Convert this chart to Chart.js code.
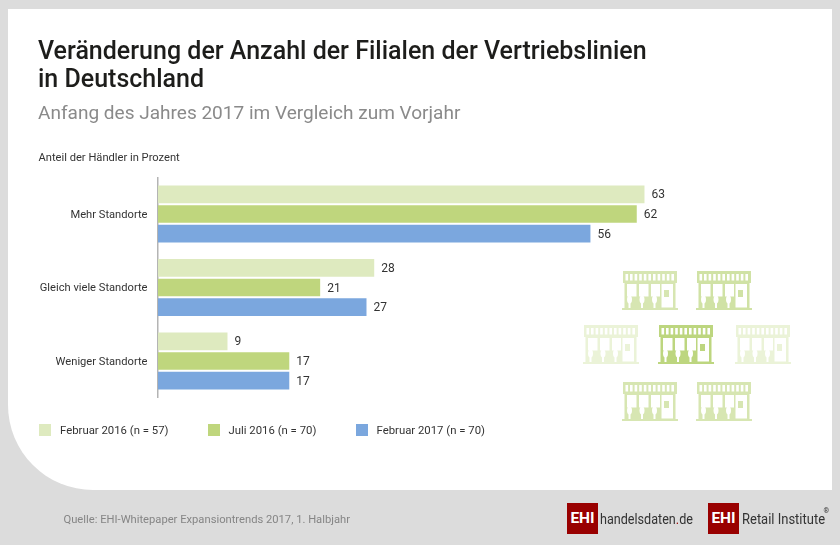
<!DOCTYPE html>
<html lang="de"><head><meta charset="utf-8">
<script src="https://cdn.jsdelivr.net/npm/chart.js@4"></script>
<style>
html,body{margin:0;padding:0;width:840px;height:545px;overflow:hidden;background:#dcdcdc;font-family:Roboto,sans-serif}
#panel{position:absolute;left:8px;top:9px;width:824px;height:481px;background:#fff;border-bottom-left-radius:85px}
canvas{position:absolute;left:0;top:0}
.t{position:absolute;white-space:nowrap;line-height:1}
.sw{position:absolute;width:12px;height:12px;top:423.5px}
.logo{position:absolute;top:503px;width:31px;height:31px;background:#990000;color:#fff;font:700 15.5px/31px Roboto;text-align:center}
.n{transform-origin:0 50%}
svg.i{position:absolute;width:56px;height:39px;filter:blur(.4px)}
</style></head><body>
<div id="panel"></div>
<canvas id="c" width="840" height="545"></canvas>
<div class="t" style="left:38px;top:38px;font-size:25px;font-weight:500;color:#1d1d1b">Veränderung der Anzahl der Filialen der Vertriebslinien</div>
<div class="t" style="left:38px;top:66px;font-size:25px;font-weight:500;color:#1d1d1b">in Deutschland</div>
<div class="t" style="left:38px;top:103px;font-size:19.05px;color:#8a8a8a">Anfang des Jahres 2017 im Vergleich zum Vorjahr</div>
<div class="t" style="left:38.5px;top:151.5px;font-size:11.15px;color:#333">Anteil der Händler in Prozent</div>
<div id="legend"></div>
<div class="t" style="left:63.5px;top:513.5px;font-size:11.2px;color:#858585">Quelle: EHI-Whitepaper Expansiontrends 2017, 1. Halbjahr</div>
<div class="logo" style="left:567px">EHI</div>
<div class="t n" style="left:600px;top:512px;font-size:15px;color:#333;transform:scaleX(.84)">handelsdaten<span style="color:#990000">.</span>de</div>
<div class="logo" style="left:708px">EHI</div>
<div class="t n" style="left:742px;top:512px;font-size:15px;color:#333;transform:scaleX(.865)">Retail Institute</div>
<div class="t" style="left:823.500px;top:508px;font-size:7px;color:#333">®</div>
<svg width="0" height="0" style="position:absolute"><defs>
<symbol id="store" viewBox="0 0 56 39">
<path fill="#bdd67f" d="M1 0H55V12H53.500V37H56V39H0V37H2.500V12H1Z"/>
<g fill="#fff">
<rect x="3.500" y="3" width="2.600" height="6.500"/><rect x="8" y="3" width="2.600" height="6.500"/><rect x="12.600" y="3" width="2.600" height="6.500"/><rect x="17.200" y="3" width="2.600" height="6.500"/><rect x="21.800" y="3" width="2.600" height="6.500"/><rect x="26.400" y="3" width="2.600" height="6.500"/><rect x="31" y="3" width="2.600" height="6.500"/><rect x="35.600" y="3" width="2.600" height="6.500"/><rect x="40.200" y="3" width="2.600" height="6.500"/><rect x="44.800" y="3" width="2.600" height="6.500"/><rect x="49.400" y="3" width="2.600" height="6.500"/>
<rect x="5" y="13" width="9.500" height="12.500"/><rect x="17" y="13" width="9.500" height="12.500"/><rect x="29" y="13" width="9" height="12.500"/>
<rect x="39.500" y="13" width="11.500" height="23.500"/>
<ellipse cx="7.500" cy="28.500" rx="2.500" ry="4"/><ellipse cx="20" cy="28.500" rx="2.500" ry="4"/><ellipse cx="32.500" cy="28.500" rx="2.500" ry="4"/>
<rect x="6.500" y="32" width="2" height="5"/><rect x="19" y="32" width="2" height="5"/><rect x="31.500" y="32" width="2" height="5"/>
</g>
<rect x="42" y="19" width="5" height="7" fill="#bdd67f"/>
</symbol></defs></svg>
<div id="icons"></div>
<script>
const categories = ["Mehr Standorte", "Gleich viele Standorte", "Weniger Standorte"];
const seriesNames = ["Februar 2016 (n = 57)", "Juli 2016 (n = 70)", "Februar 2017 (n = 70)"];
const feb2016 = [63, 28, 9];
const jul2016 = [62, 21, 17];
const feb2017 = [56, 27, 17];
const seriesColors = ["#deeabf", "#bfd67d", "#7ba7de"];

const barLabels = {
  id: "barLabels",
  afterDatasetsDraw(chart) {
    const ctx = chart.ctx;
    ctx.save();
    ctx.font = "12px Roboto";
    ctx.fillStyle = "#333";
    ctx.textAlign = "left";
    ctx.textBaseline = "middle";
    chart.data.datasets.forEach((ds, i) => {
      chart.getDatasetMeta(i).data.forEach((bar, j) => {
        ctx.fillText(String(ds.data[j]), bar.x + 7, bar.y + 1);
      });
    });
    ctx.restore();
  }
};

new Chart(document.getElementById("c"), {
  type: "bar",
  data: {
    labels: categories,
    datasets: [feb2016, jul2016, feb2017].map((d, i) => ({
      label: seriesNames[i], data: d, backgroundColor: seriesColors[i],
      categoryPercentage: 0.8, barPercentage: 0.9, borderWidth: 0
    }))
  },
  options: {
    indexAxis: "y",
    responsive: false,
    animation: false,
    layout: { padding: { left: 0, top: 177.25, right: 64.24, bottom: 147.25 } },
    plugins: { legend: { display: false }, tooltip: { enabled: false } },
    scales: {
      x: { display: false, min: 0, max: 80 },
      y: {
        afterFit(s) { s.width = 158; },
        grid: { display: false, drawTicks: false },
        border: { display: true, color: "#b4b4b4", width: 1.5 },
        ticks: { color: "#333", padding: 10.5, labelOffset: 1, font: { family: "Roboto", size: 11.15 } }
      }
    }
  },
  plugins: [barLabels]
});

const legendX = [39, 207.5, 355.5];
document.getElementById("legend").innerHTML = seriesNames.map((n, i) =>
  `<div class="sw" style="left:${legendX[i]}px;background:${seriesColors[i]}"></div>` +
  `<div class="t" style="left:${legendX[i] + 21}px;top:424.5px;font-size:11.35px;color:#333">${n}</div>`).join("");

const icons = [[622,271,.6],[696,271,.7],[583,325,.3],[658,325,1],[735,325,.3],[622,382,.6],[696,382,.6]];
document.getElementById("icons").innerHTML = icons.map(([x,y,o]) =>
  `<svg class="i" style="left:${x}px;top:${y}px;opacity:${o}"><use href="#store"/></svg>`).join("");
</script>
</body></html>
